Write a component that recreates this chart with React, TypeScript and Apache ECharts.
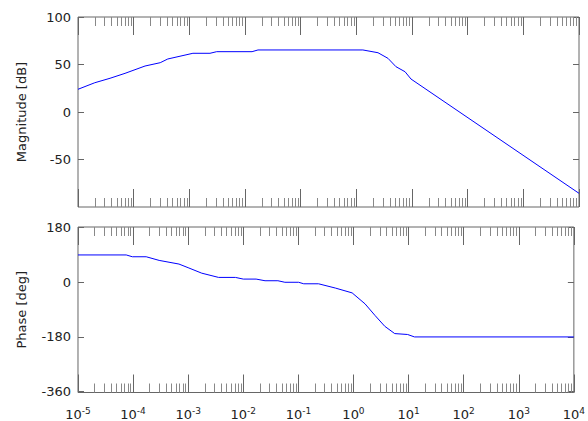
import React, { useEffect, useRef } from "react";
import * as echarts from "echarts";

// Frequency (rad/s) and magnitude (dB)
const magFreq = [1e-5, 2.0e-5, 3.76e-5, 7.0e-5, 1.6e-4, 3.0e-4, 4.1e-4, 1.16e-3, 2.35e-3, 3.1e-3, 0.0134, 0.0171, 1.31, 2.45, 3.7, 5.15, 7.5, 9.6, 1e4];
const magDb = [23.9, 30.8, 35.5, 40.7, 48.4, 51.9, 55.8, 61.8, 61.8, 63.5, 63.5, 65.3, 65.3, 62.4, 56.5, 47.7, 42.4, 34.7, -85.6];

// Frequency (rad/s) and phase (deg)
const phaseFreq = [1e-5, 7.5e-5, 9.7e-5, 1.73e-4, 2.97e-4, 6.8e-4, 1.03e-3, 1.76e-3, 3.56e-3, 7.2e-3, 0.01, 0.0171, 0.0248, 0.0425, 0.0568, 0.101, 0.125, 0.232, 0.468, 0.946, 1.62, 2.45, 3.7, 5.6, 9.6, 12.8, 1e4];
const phaseDeg = [90, 90, 84, 84, 72, 60, 47, 30, 16, 16, 10.5, 10.5, 5, 5, 0, 0, -5, -5, -19, -35, -71, -109, -145, -169, -172, -180, -180];

const decadeExponents = [-5, -4, -3, -2, -1, 0, 1, 2, 3, 4];
const magTickLabels = [-50, 0, 50, 100];
const phaseTickLabels = [-360, -180, 0, 180];

const FONT = "DejaVu Sans";
const AXIS_COLOR = "#666";
const MINOR_COLOR = "#888";
const TEXT_COLOR = "#222";

export default function App() {
  const ref = useRef<HTMLDivElement>(null);

  useEffect(() => {
    if (!ref.current) return;
    const chart = echarts.init(ref.current, null, { renderer: "svg" });

    const minorTicks: number[] = [];
    for (let i = 0; i < decadeExponents.length - 1; i++) {
      for (let k = 2; k <= 9; k++) minorTicks.push(decadeExponents[i] + Math.log10(k));
    }
    const xMin = decadeExponents[0];
    const xMax = decadeExponents[decadeExponents.length - 1];

    const xAxisDef = (gridIndex: number, position: string, minor: boolean, showLabel: boolean) => ({
      type: "value",
      gridIndex,
      position,
      min: xMin,
      max: xMax,
      interval: 1,
      axisLine: { show: false, onZero: false },
      splitLine: { show: false },
      axisTick: minor
        ? { show: true, inside: true, length: 9, customValues: minorTicks, lineStyle: { color: MINOR_COLOR, width: 1 } }
        : { show: true, inside: true, length: 18, customValues: decadeExponents, lineStyle: { color: AXIS_COLOR, width: 1 } },
      axisLabel: showLabel
        ? {
            show: true,
            margin: 14,
            customValues: decadeExponents,
            formatter: (v: number) => `{b|10}{s|${Math.round(v)}}`,
            rich: {
              b: { fontFamily: FONT, fontSize: 13, color: TEXT_COLOR },
              s: { fontFamily: FONT, fontSize: 9, color: TEXT_COLOR, padding: [0, 0, 7, 0] },
            },
          }
        : { show: false },
    });

    const yAxisDef = (gridIndex: number, position: string, min: number, max: number, ticks: number[], showLabel: boolean, name: string) => ({
      type: "value",
      gridIndex,
      position,
      min,
      max,
      name: showLabel ? name : "",
      nameLocation: "middle",
      nameGap: 50,
      nameTextStyle: { fontFamily: FONT, fontSize: 13, color: TEXT_COLOR },
      axisLine: { show: false, onZero: false },
      splitLine: { show: false },
      axisTick: { show: true, inside: true, length: 6, customValues: ticks, lineStyle: { color: AXIS_COLOR } },
      axisLabel: showLabel
        ? { show: true, margin: 7, customValues: ticks, fontFamily: FONT, fontSize: 13, color: TEXT_COLOR }
        : { show: false },
    });

    chart.setOption({
      animation: false,
      backgroundColor: "#fff",
      grid: [
        { left: 78, right: 9, top: 17, height: 190, show: true, borderColor: AXIS_COLOR, borderWidth: 1, backgroundColor: "transparent" },
        { left: 78, right: 9, top: 227, height: 166, show: true, borderColor: AXIS_COLOR, borderWidth: 1, backgroundColor: "transparent" },
      ],
      xAxis: [
        xAxisDef(0, "bottom", false, false),
        xAxisDef(0, "bottom", true, false),
        xAxisDef(0, "top", false, false),
        xAxisDef(0, "top", true, false),
        xAxisDef(1, "bottom", false, true),
        xAxisDef(1, "bottom", true, false),
        xAxisDef(1, "top", false, false),
        xAxisDef(1, "top", true, false),
      ],
      yAxis: [
        yAxisDef(0, "left", -100, 100, magTickLabels, true, "Magnitude [dB]"),
        yAxisDef(0, "right", -100, 100, magTickLabels, false, ""),
        yAxisDef(1, "left", -363, 182, phaseTickLabels, true, "Phase [deg]"),
        yAxisDef(1, "right", -363, 182, phaseTickLabels, false, ""),
      ],
      series: [
        {
          type: "line",
          xAxisIndex: 0,
          yAxisIndex: 0,
          showSymbol: false,
          lineStyle: { color: "#0000ff", width: 1 },
          data: magFreq.map((f, i) => [Math.log10(f), magDb[i]]),
        },
        {
          type: "line",
          xAxisIndex: 4,
          yAxisIndex: 2,
          showSymbol: false,
          lineStyle: { color: "#0000ff", width: 1 },
          data: phaseFreq.map((f, i) => [Math.log10(f), phaseDeg[i]]),
        },
      ],
    });

    return () => chart.dispose();
  }, []);

  return (
    <div
      ref={ref}
      style={{ position: "absolute", left: 0, top: 0, width: 588, height: 421 }}
    />
  );
}
